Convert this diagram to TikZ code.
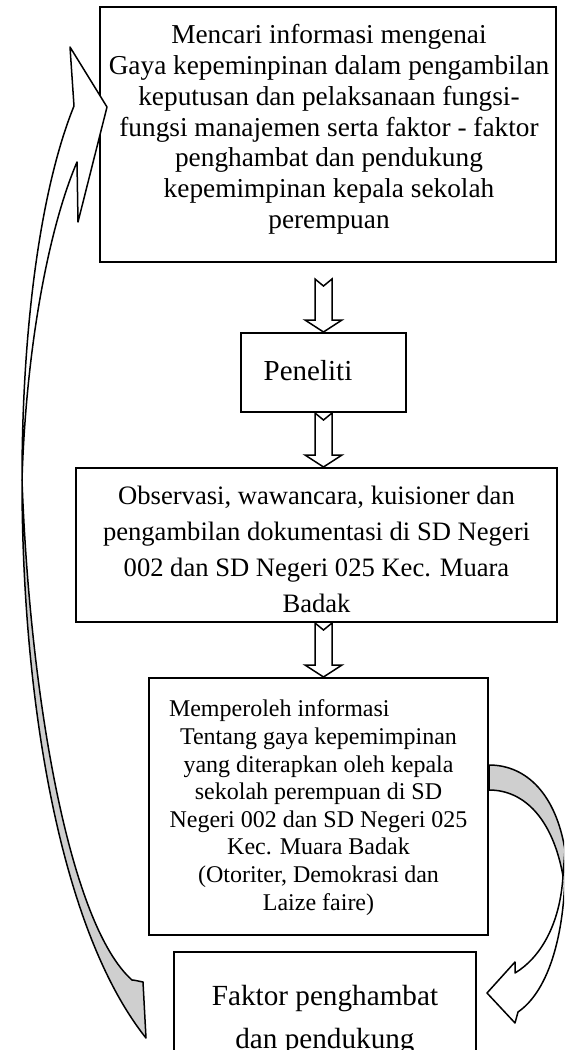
\documentclass[tikz,border=0pt]{standalone}
\usepackage{fontspec}
\setmainfont{Liberation Serif}
\usetikzlibrary{calc}
\definecolor{ribbongray}{gray}{0.81}
\tikzset{
  box/.style={draw, line width=1pt, rectangle, inner sep=0pt},
  txt/.style={align=center, inner sep=0pt},
  hollow/.style={draw, line width=0.75pt, fill=white, line join=miter},
  ribbon/.style={draw, line width=0.75pt, line join=round},
}
% hollow block arrow pointing down, notched tail at #1, tip at #2
\newcommand{\hollowdown}[2]{%
  \draw[hollow] ($(#1)+(-8.5,0)$) -- ($(#1)+(0,7)$) -- ($(#1)+(8.5,0)$)
    -- ($(#2)+(8.5,-12)$) -- ($(#2)+(18.5,-12)$) -- (#2)
    -- ($(#2)+(-18.5,-12)$) -- ($(#2)+(-8.5,-12)$) -- cycle;}
\begin{document}
\begin{tikzpicture}[x=0.5pt,y=-0.5pt]
\useasboundingbox (0,0) rectangle (564,1050);
\clip (0,0) rectangle (564,1050);
\fill[white] (0,0) rectangle (564,1050);

% boxes
\node[box, minimum width=228pt, minimum height=127.5pt] (b1) at (328,134.5) {};
\node[box, minimum width=82.5pt, minimum height=39.5pt] (b2) at (323.5,372.5) {};
\node[box, minimum width=240.5pt, minimum height=77pt] (b3) at (316.5,545) {};
\node[box, minimum width=169.5pt, minimum height=128.5pt] (b4) at (318.5,806.5) {};
\node[box, minimum width=151pt, minimum height=64pt] (b5) at (325,1016) {};

% texts
\node[txt, font=\fontsize{13.65}{15.35}\selectfont] (t1) at (329,129.9)
  {\strut Mencari informasi mengenai\\ Gaya kepeminpinan dalam pengambilan\\
   keputusan dan pelaksanaan fungsi-\\ fungsi manajemen serta faktor - faktor\\
   penghambat dan pendukung\\ kepemimpinan kepala sekolah\\ perempuan\strut};
\node[txt, anchor=base, font=\fontsize{14.5}{16.7}\selectfont] (t2) at (308,380) {Peneliti};
\node[txt, font=\fontsize{13.3}{17.85}\selectfont] (t3) at (316.5,551.4)
  {\strut Observasi, wawancara, kuisioner dan\\ pengambilan dokumentasi di SD Negeri\\
   002 dan SD Negeri 025 Kec. Muara\\ Badak\strut};
\node[txt, font=\fontsize{12}{13.8}\selectfont] (t4) at (318.5,808)
  {\strut\makebox[149.5pt][l]{Memperoleh informasi}\\ Tentang gaya kepemimpinan\\
   yang diterapkan oleh kepala\\ sekolah perempuan di SD\\ Negeri 002 dan SD Negeri 025\\
   Kec. Muara Badak\\ (Otoriter, Demokrasi dan\\ Laize faire)\strut};
\node[txt, font=\fontsize{14.6}{21.5}\selectfont] (t5) at (325,1017.9)
  {\strut Faktor penghambat\\ dan pendukung\strut};

% straight block arrows
\coordinate (a1top) at ($(b2.north |- b1.south)+(0,16)$);
\coordinate (a2tip) at (b2.south |- b3.north);
\coordinate (a3top) at (b2.south |- b3.south);
\coordinate (a3tip) at (b2.south |- b4.north);
\hollowdown{a1top}{b2.north}
\hollowdown{b2.south}{a2tip}
\hollowdown{a3top}{a3tip}

% curved arrow on the right: from b4 down to b5
\coordinate (rtailA) at (b4.east |- 0,765);
\coordinate (rtailB) at (b4.east |- 0,790);
\coordinate (rturn) at (563,876);
\coordinate (rtip) at (487,993);
\draw[ribbon, fill=ribbongray] (rtailA) .. controls (527,765) and (556,795) .. (565,850)
  -- (rturn) .. controls (553,820) and (525,790) .. (rtailB) -- cycle;
\draw[ribbon, fill=white] (515,973) .. controls (540,958) and (560,925) .. (rturn)
  -- (565,860) .. controls (566,930) and (550,990) .. (518,1012) -- (515,1023) -- (rtip)
  -- (515,962) -- cycle;

% curved arrow on the left: from b5 back up to b1
\coordinate (lturn) at (22,480);
\coordinate (ltip) at (107,107);
\draw[ribbon, fill=ribbongray] (lturn) .. controls (22,700) and (60,930) .. (146,1038)
  -- (143,982) .. controls (138,981) and (134,980) .. (132,980)
  .. controls (70,925) and (30,700) .. (lturn) -- cycle;
\draw[ribbon, fill=white] (74,106) -- (70,47) -- (ltip) -- (78,222) -- (77,162)
  .. controls (48,230) and (26,350) .. (lturn)
  .. controls (22,330) and (40,190) .. (74,106) -- cycle;
\end{tikzpicture}
\end{document}
